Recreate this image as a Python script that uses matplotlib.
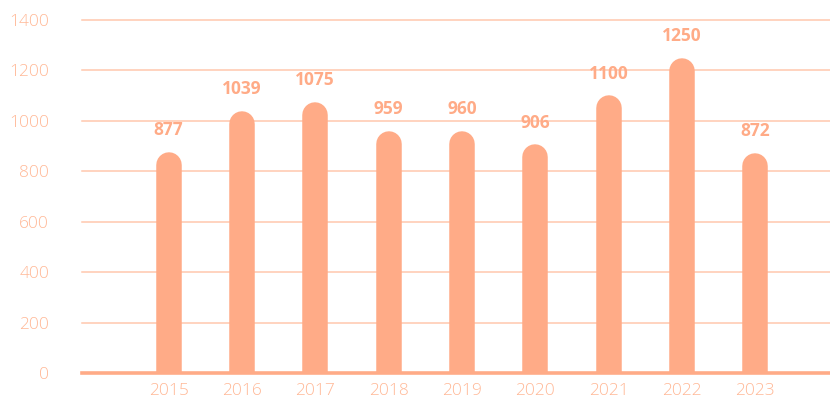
import matplotlib
matplotlib.use("Agg")
import matplotlib.pyplot as plt

years = ["2015", "2016", "2017", "2018", "2019", "2020", "2021", "2022", "2023"]
values = [877, 1039, 1075, 959, 960, 906, 1100, 1250, 872]
y_ticks = [0, 200, 400, 600, 800, 1000, 1200, 1400]

BAR = "#FFAB87"
GRID = "#FFC8AE"
TICK = "#FFB896"
FONT = ["Open Sans", "DejaVu Sans"]

W, H, DPI = 830, 401, 100
fig = plt.figure(figsize=(W / DPI, H / DPI), dpi=DPI)
ax = fig.add_axes([82 / W, (H - 373) / H, (W - 82) / W, (373 - 20) / H])
ax.set_ylim(0, 1400)
ax.set_xlim(-1.18, 9.02)
for s in ax.spines.values():
    s.set_visible(False)

for t in y_ticks:
    if t == 0:
        continue
    ax.axhline(t, color=GRID, lw=1.1, zorder=1, clip_on=False)
ax.axhline(0, color=BAR, lw=2.6, zorder=3, clip_on=False)

bar_px = 25.5
lw_pt = bar_px * 72 / DPI
px_per_unit = (373 - 20) / 1400
r_data = (bar_px / 2) / px_per_unit
xs = list(range(len(years)))
for x, v in zip(xs, values):
    ax.plot([x, x], [-r_data, v - r_data], color=BAR, lw=lw_pt,
            solid_capstyle="round", zorder=2, clip_on=True)
    ax.text(x, v + 22 / px_per_unit, f"{v}", ha="center", va="center",
            fontsize=12.5, fontweight="bold", color=BAR, family=FONT)

ax.set_yticks(y_ticks)
ax.set_yticklabels([str(t) for t in y_ticks])
ax.set_xticks(xs)
ax.set_xticklabels(years)
ax.tick_params(axis="both", length=0, colors=TICK, labelsize=12.5)
ax.tick_params(axis="y", pad=33 * 72 / DPI)
ax.tick_params(axis="x", pad=7)
for lab in ax.get_xticklabels() + ax.get_yticklabels():
    lab.set_family(FONT)
    lab.set_fontweight("light")

fig.savefig("out.png", dpi=DPI)
